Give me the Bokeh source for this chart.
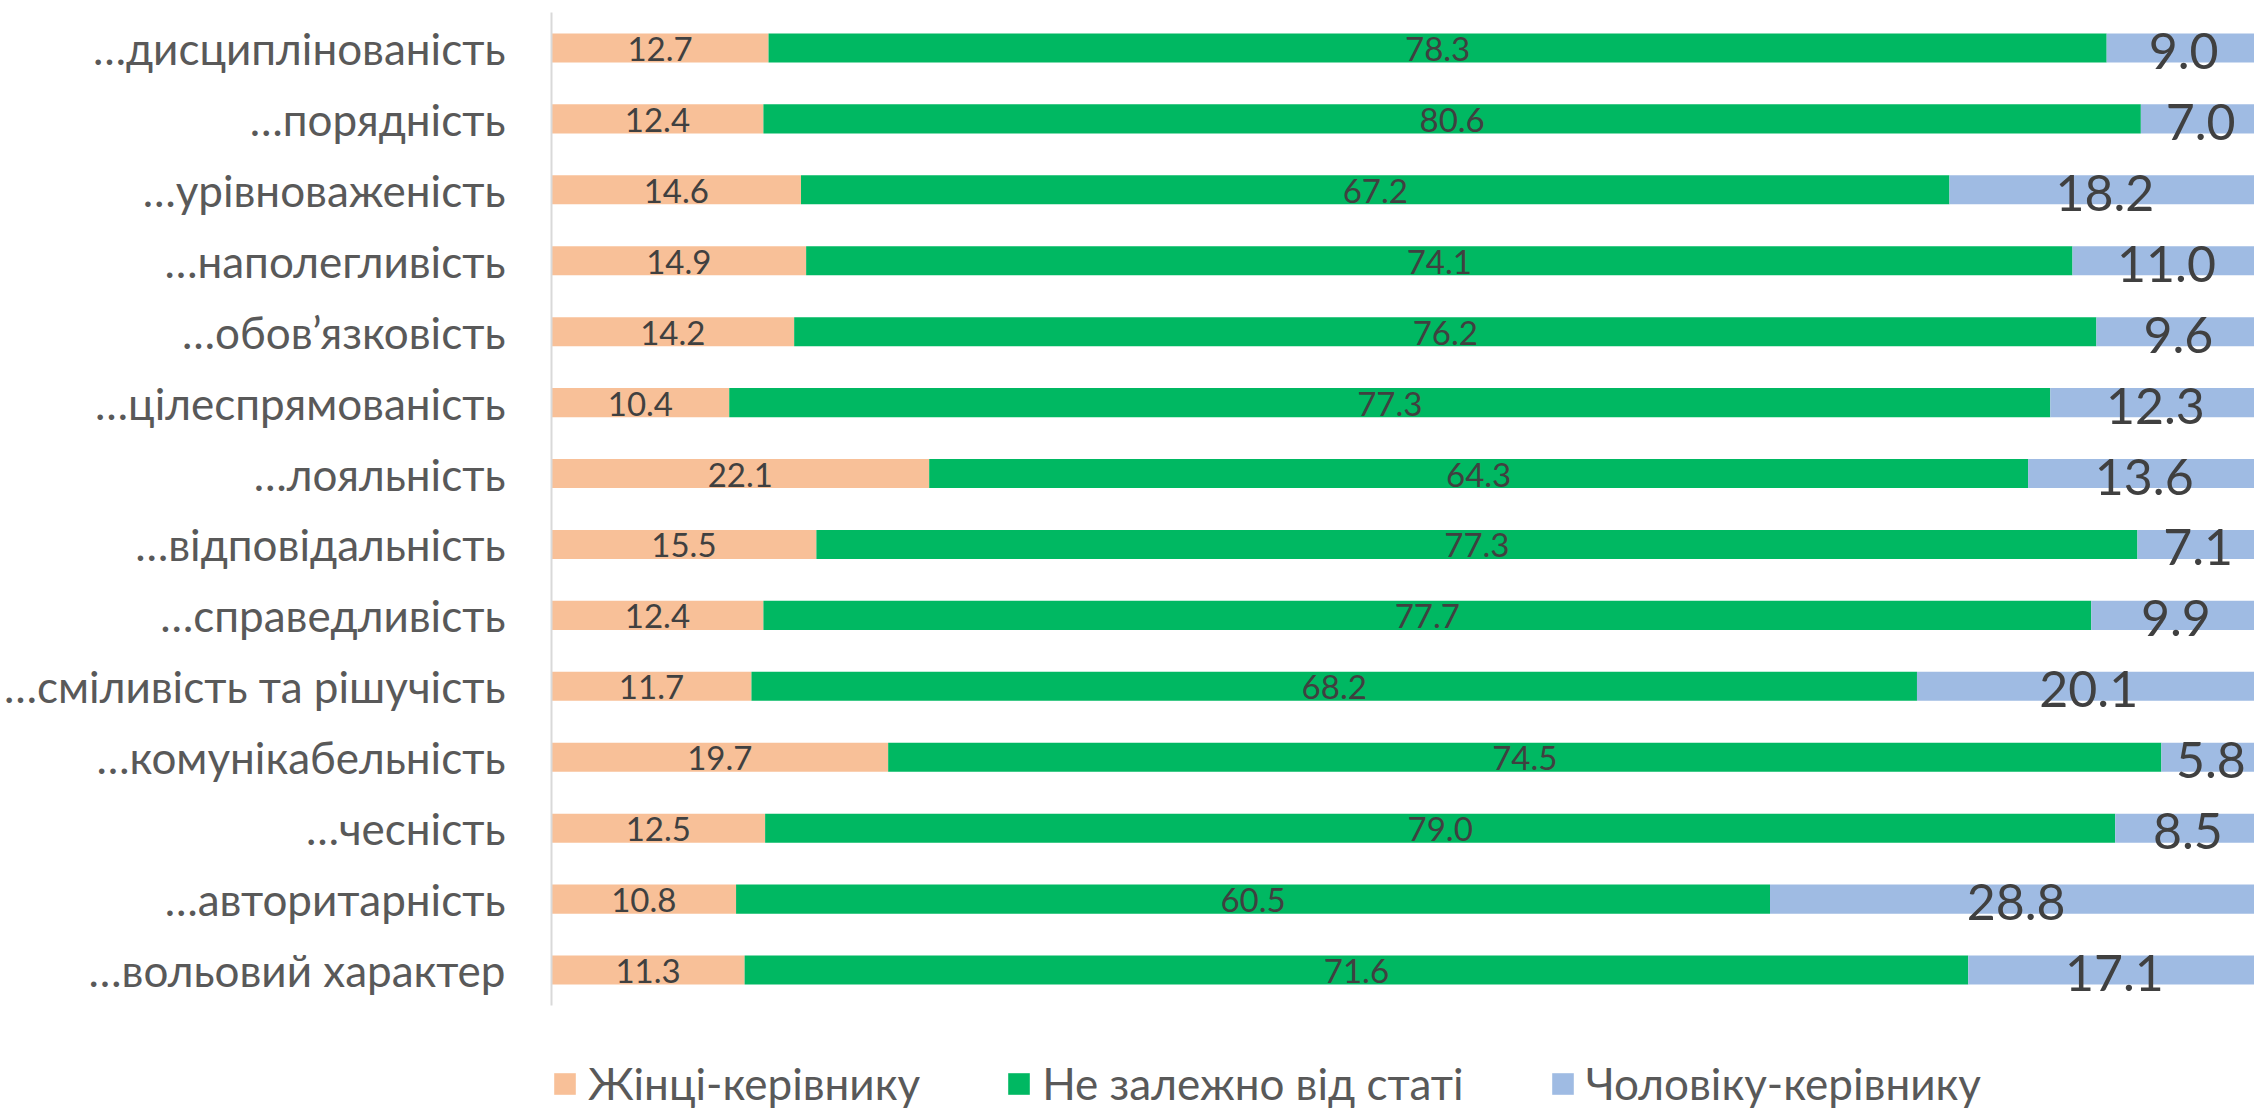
from bokeh.plotting import figure
from bokeh.models import (ColumnDataSource, Range1d, Legend, LegendItem, LabelSet,
                          FixedTicker)
from bokeh.embed import file_html
from bokeh.resources import INLINE
from bokeh.core.properties import value

categories = ["…дисциплінованість", "…порядність", "…урівноваженість", "…наполегливість",
              "…обов’язковість", "…цілеспрямованість", "…лояльність", "…відповідальність",
              "…справедливість", "…сміливість та рішучість", "…комунікабельність", "…чесність",
              "…авторитарність", "…вольовий характер"]
women = [12.7, 12.4, 14.6, 14.9, 14.2, 10.4, 22.1, 15.5, 12.4, 11.7, 19.7, 12.5, 10.8, 11.3]
neutral = [78.3, 80.6, 67.2, 74.1, 76.2, 77.3, 64.3, 77.3, 77.7, 68.2, 74.5, 79.0, 60.5, 71.6]
men = [9.0, 7.0, 18.2, 11.0, 9.6, 12.3, 13.6, 7.1, 9.9, 20.1, 5.8, 8.5, 28.8, 17.1]
series_names = ["Жінці-керівнику", "Не залежно від статі", "Чоловіку-керівнику"]
colors = ["#F8C098", "#00B862", "#9FBBE3"]

FONT = "Lato"
idx = list(range(len(categories)))

src = ColumnDataSource(dict(
    yi=idx, w=women, n=neutral, m=men,
    wc=[a / 2 for a in women],
    nc=[a + b / 2 for a, b in zip(women, neutral)],
    mc=[a + b + c / 2 for a, b, c in zip(women, neutral, men)],
    wl=[f"{v:.1f}" for v in women],
    nl=[f"{v:.1f}" for v in neutral],
    ml=[f"{v:.1f}" for v in men],
))

n_rows = len(categories)
# frame spans 12..1109 px; rows occupy 12..1005, legend below
row_px = (1005 - 12) / n_rows
y_bottom = n_rows - 0.5 + (1109 - 1005) / row_px

p = figure(width=2254, height=1109, output_backend="svg", toolbar_location=None,
           y_range=Range1d(y_bottom, -0.5), x_range=Range1d(0, 99.65),
           x_axis_location=None, min_border_left=551, min_border_right=0,
           min_border_top=12, min_border_bottom=0)
p.outline_line_color = None
p.grid.visible = False

rs = p.hbar_stack(["w", "n", "m"], y="yi", height=0.41, color=colors, source=src, line_color=None)

p.yaxis.ticker = FixedTicker(ticks=idx)
p.yaxis.major_label_overrides = {i: c for i, c in zip(idx, categories)}
p.yaxis.bounds = (-0.5, n_rows - 0.5)
p.yaxis.axis_line_color = "#D9D9D9"
p.yaxis.axis_line_width = 2
p.yaxis.major_tick_line_color = None
p.yaxis.minor_tick_line_color = None
p.yaxis.major_label_standoff = 40
p.yaxis.major_label_text_font = FONT
p.yaxis.major_label_text_font_size = "44px"
p.yaxis.major_label_text_color = "#595959"

for xc, lab, size, off in [("wc", "wl", "33px", -1), ("nc", "nl", "33px", -1), ("mc", "ml", "50px", -3)]:
    ls = LabelSet(x=xc, y="yi", text=lab, source=src, text_align="center",
                  text_baseline="middle", y_offset=off, text_font=value(FONT),
                  text_font_size=size, text_color="#404040")
    p.add_layout(ls)

legend = Legend(items=[LegendItem(label=n, renderers=[r]) for n, r in zip(series_names, rs)],
                orientation="horizontal", location=(0, 0), glyph_width=27, glyph_height=27,
                label_standoff=10, spacing=85, padding=0, margin=0,
                border_line_color=None, background_fill_alpha=0,
                label_text_font=FONT, label_text_font_size="44px", label_text_color="#595959")
p.add_layout(legend, "center")

open("out.html", "w").write(file_html(p, INLINE))
